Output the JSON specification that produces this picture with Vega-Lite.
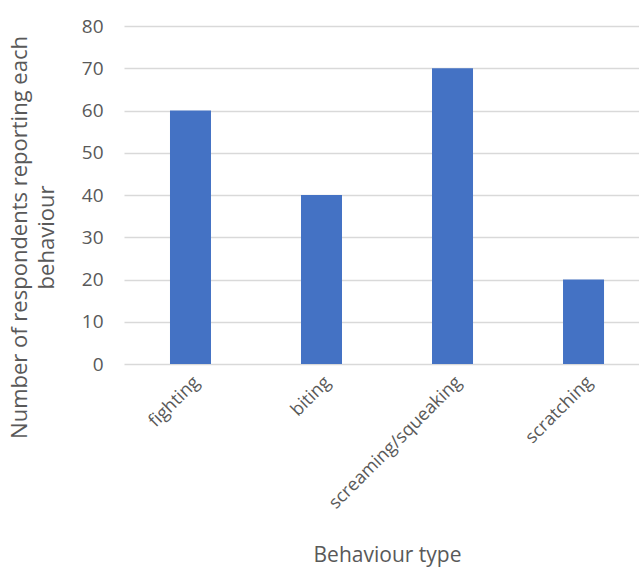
{
  "$schema": "https://vega.github.io/schema/vega-lite/v6.json",
  "autosize": "none",
  "padding": {"left": 124, "top": 26, "right": 0, "bottom": 205},
  "width": 515,
  "height": 338,
  "background": "white",
  "data": {
    "values": [
      {"behaviour": "fighting", "count": 60},
      {"behaviour": "biting", "count": 40},
      {"behaviour": "screaming/squeaking", "count": 70},
      {"behaviour": "scratching", "count": 20}
    ]
  },
  "mark": {"type": "bar", "color": "#4472c4"},
  "encoding": {
    "x": {
      "field": "behaviour",
      "type": "nominal",
      "sort": null,
      "scale": {"paddingInner": 0.687, "paddingOuter": 0.309, "align": 0.568},
      "axis": {
        "title": "Behaviour type",
        "labelAngle": -45,
        "labelFont": "Open Sans",
        "labelFontSize": 18,
        "labelColor": "#595959",
        "labelPadding": 9,
        "labelLimit": 0,
        "ticks": false,
        "domain": false,
        "titleFont": "Open Sans",
        "titleFontSize": 21,
        "titleFontWeight": "normal",
        "titleColor": "#595959",
        "titleX": 263,
        "titleY": 197,
        "titleBaseline": "alphabetic",
        "titleAlign": "center"
      }
    },
    "y": {
      "field": "count",
      "type": "quantitative",
      "scale": {"domain": [0, 80]},
      "axis": {
        "values": [0, 10, 20, 30, 40, 50, 60, 70, 80],
        "title": ["Number of respondents reporting each", "behaviour"],
        "labelFont": "Open Sans",
        "labelFontSize": 19,
        "labelColor": "#595959",
        "labelPadding": 21,
        "ticks": false,
        "domain": false,
        "grid": true,
        "gridColor": "#d9d9d9",
        "gridWidth": 1.3,
        "titleFont": "Open Sans",
        "titleFontSize": 22,
        "titleFontWeight": "normal",
        "titleColor": "#595959",
        "titleAngle": -90,
        "titleX": -115,
        "titleY": 211,
        "titleBaseline": "top",
        "titleAlign": "center",
        "titleLineHeight": 27
      }
    }
  },
  "config": {"view": {"stroke": null}}
}
